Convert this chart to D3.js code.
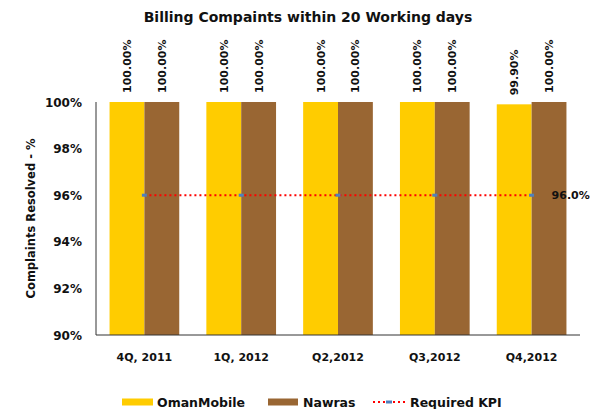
<!DOCTYPE html>
<html>
<head>
<meta charset="utf-8">
<script src="https://cdn.jsdelivr.net/npm/d3@7"></script>
<style>
  body { margin: 0; background: #fff; }
  text { font-family: "DejaVu Sans", sans-serif; font-weight: bold; fill: #111; }
</style>
</head>
<body>
<div id="chart"></div>
<script>
// chart data
var quarters = ["4Q, 2011", "1Q, 2012", "Q2,2012", "Q3,2012", "Q4,2012"];
var omanMobile = [100.00, 100.00, 100.00, 100.00, 99.90];
var nawras = [100.00, 100.00, 100.00, 100.00, 100.00];
var requiredKpi = [96, 96, 96, 96, 96];
var yTicks = [90, 92, 94, 96, 98, 100];

var svgWidth = 604, svgHeight = 409;
var plotLeft = 96, plotRight = 580, plotTop = 102, plotBottom = 335;

var svg = d3.select("#chart").append("svg")
    .attr("width", svgWidth)
    .attr("height", svgHeight);

var x = d3.scaleBand()
    .domain(quarters)
    .range([plotLeft, plotRight])
    .paddingInner(0.28)
    .paddingOuter(0.14);

var y = d3.scaleLinear()
    .domain([90, 100])
    .range([plotBottom, plotTop]);

var barW = x.bandwidth() / 2;

// title
svg.append("text")
    .text("Billing Compaints within 20 Working days")
    .attr("x", 308)
    .attr("y", 22)
    .attr("text-anchor", "middle")
    .attr("font-size", 14);

// axis title
svg.append("text")
    .text("Complaints Resolved - %")
    .attr("transform", "translate(35," + ((plotTop + plotBottom) / 2) + ") rotate(-90)")
    .attr("text-anchor", "middle")
    .attr("font-size", 11.5);

// y tick labels
svg.append("g")
    .selectAll("text")
    .data(yTicks)
    .enter()
    .append("text")
    .text(function(d) { return d + "%"; })
    .attr("x", 82)
    .attr("y", function(d) { return y(d) + 4.5; })
    .attr("text-anchor", "end")
    .attr("font-size", 12);

// bars
var series = [
    {name: "OmanMobile", values: omanMobile, color: "#FFCC00", off: 0},
    {name: "Nawras", values: nawras, color: "#996633", off: 1}
];

series.forEach(function(s) {
    svg.append("g")
        .selectAll("rect")
        .data(s.values)
        .enter()
        .append("rect")
        .attr("x", function(d, i) { return x(quarters[i]) + s.off * barW; })
        .attr("y", function(d) { return y(d); })
        .attr("width", barW)
        .attr("height", function(d) { return plotBottom - y(d); })
        .style("fill", s.color);

    svg.append("g")
        .selectAll("text")
        .data(s.values)
        .enter()
        .append("text")
        .text(function(d) { return d.toFixed(2) + "%"; })
        .attr("transform", function(d, i) {
            let cx = x(quarters[i]) + s.off * barW + barW / 2 + 4;
            let cy = y(d) - 9;
            return "translate(" + cx + "," + cy + ") rotate(-90)";
        })
        .attr("font-size", 11);
});

// axes lines
svg.append("line")
    .attr("x1", plotLeft).attr("x2", plotLeft)
    .attr("y1", plotTop).attr("y2", plotBottom)
    .attr("stroke", "#333").attr("stroke-width", 1);
svg.append("line")
    .attr("x1", plotLeft).attr("x2", plotRight)
    .attr("y1", plotBottom).attr("y2", plotBottom)
    .attr("stroke", "#333").attr("stroke-width", 1);

// x labels
svg.append("g")
    .selectAll("text")
    .data(quarters)
    .enter()
    .append("text")
    .text(function(d) { return d; })
    .attr("x", function(d) { return x(d) + x.bandwidth() / 2; })
    .attr("y", 361)
    .attr("text-anchor", "middle")
    .attr("font-size", 11);

// KPI line
var kpiLine = d3.line()
    .x(function(d, i) { return x(quarters[i]) + x.bandwidth() / 2; })
    .y(function(d) { return y(d); });

svg.append("path")
    .datum(requiredKpi)
    .attr("d", kpiLine)
    .attr("fill", "none")
    .attr("stroke", "#FF0000")
    .attr("stroke-width", 2)
    .attr("stroke-dasharray", "2,3");

svg.append("g")
    .selectAll("rect")
    .data(requiredKpi)
    .enter()
    .append("rect")
    .attr("x", function(d, i) { return x(quarters[i]) + x.bandwidth() / 2 - 2.5; })
    .attr("y", function(d) { return y(d) - 1.5; })
    .attr("width", 5)
    .attr("height", 3)
    .style("fill", "#4F81BD");

svg.append("text")
    .text(requiredKpi[requiredKpi.length - 1].toFixed(1) + "%")
    .attr("x", x(quarters[4]) + x.bandwidth() / 2 + 20)
    .attr("y", y(96) + 4)
    .attr("font-size", 11);

// legend
var legendY = 402;
svg.append("rect").attr("x", 122).attr("y", legendY - 3.5).attr("width", 31).attr("height", 7).style("fill", "#FFCC00");
svg.append("text").text("OmanMobile").attr("x", 157).attr("y", legendY + 4.5).attr("font-size", 12.5);
svg.append("rect").attr("x", 268).attr("y", legendY - 3.5).attr("width", 30).attr("height", 7).style("fill", "#996633");
svg.append("text").text("Nawras").attr("x", 303).attr("y", legendY + 4.5).attr("font-size", 12.5);
svg.append("line")
    .attr("x1", 373).attr("x2", 405)
    .attr("y1", legendY).attr("y2", legendY)
    .attr("stroke", "#FF0000").attr("stroke-width", 2).attr("stroke-dasharray", "2,3");
svg.append("rect").attr("x", 386).attr("y", legendY - 1.5).attr("width", 6).attr("height", 3).style("fill", "#4F81BD");
svg.append("text").text("Required KPI").attr("x", 410).attr("y", legendY + 4.5).attr("font-size", 12.5);
</script>
</body>
</html>
